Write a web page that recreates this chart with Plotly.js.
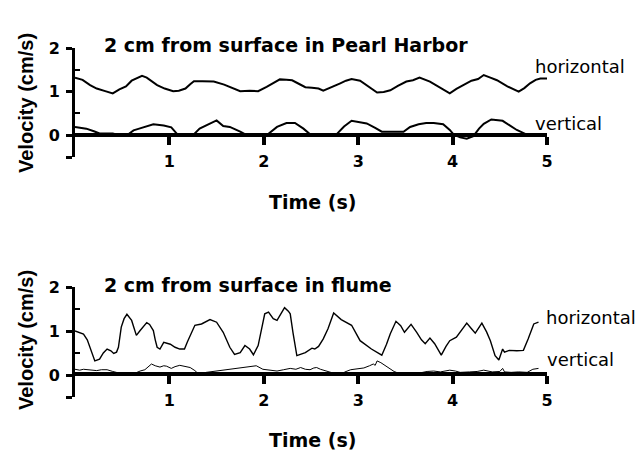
<!DOCTYPE html>
<html>
<head>
<meta charset="utf-8">
<script src="https://cdn.plot.ly/plotly-3.0.1.min.js"></script>
<style>html,body{margin:0;padding:0;background:#fff}#chart{width:644px;height:453px}</style>
</head>
<body>
<div id="chart"></div>
<script>
// ---- data ----
var pearlHorizX = [0.00,0.08,0.16,0.23,0.32,0.40,0.47,0.54,0.60,0.66,0.71,0.76,0.82,0.87,0.95,1.04,1.10,1.17,1.22,1.26,1.35,1.47,1.58,1.68,1.75,1.85,1.94,2.03,2.10,2.17,2.24,2.30,2.37,2.44,2.51,2.58,2.63,2.70,2.81,2.87,2.93,3.02,3.10,3.20,3.27,3.34,3.42,3.51,3.58,3.65,3.76,3.86,3.97,4.04,4.11,4.20,4.27,4.33,4.40,4.47,4.58,4.70,4.76,4.82,4.88,4.93,5.00];
var pearlHorizY = [1.32,1.27,1.15,1.07,1.01,0.96,1.05,1.12,1.25,1.30,1.36,1.32,1.22,1.15,1.07,1.01,1.02,1.07,1.17,1.24,1.24,1.23,1.16,1.07,1.01,1.02,1.01,1.11,1.20,1.28,1.27,1.26,1.18,1.10,1.09,1.07,1.02,1.08,1.19,1.25,1.29,1.25,1.13,0.98,0.99,1.03,1.13,1.23,1.26,1.32,1.23,1.10,0.96,1.06,1.15,1.25,1.29,1.38,1.32,1.26,1.12,1.00,1.08,1.19,1.27,1.30,1.30];
var pearlVertX = [0.00,0.12,0.20,0.26,0.40,0.47,0.55,0.62,0.68,0.75,0.83,0.94,1.02,1.08,1.25,1.32,1.40,1.50,1.57,1.64,1.75,1.82,2.03,2.14,2.24,2.33,2.42,2.49,2.77,2.85,2.93,3.09,3.18,3.25,3.48,3.55,3.64,3.72,3.80,3.90,3.97,4.01,4.08,4.15,4.22,4.28,4.33,4.41,4.53,4.62,4.68,4.78,4.96];
var pearlVertY = [0.19,0.15,0.09,0.04,0.04,0.00,0.00,0.11,0.15,0.20,0.25,0.22,0.18,0.03,0.00,0.15,0.24,0.34,0.21,0.19,0.08,0.00,0.00,0.19,0.28,0.28,0.15,0.02,0.02,0.20,0.33,0.27,0.17,0.08,0.08,0.19,0.25,0.28,0.28,0.25,0.12,0.02,-0.05,-0.08,-0.02,0.15,0.26,0.36,0.33,0.20,0.12,0.02,0.00];

var flumeHorizX = [0.00,0.09,0.13,0.16,0.21,0.26,0.30,0.34,0.38,0.41,0.44,0.46,0.49,0.52,0.55,0.60,0.65,0.69,0.73,0.76,0.79,0.81,0.83,0.85,0.87,0.90,0.94,1.01,1.06,1.11,1.16,1.19,1.22,1.27,1.34,1.43,1.50,1.57,1.64,1.69,1.75,1.80,1.85,1.89,1.94,1.98,2.01,2.05,2.10,2.14,2.18,2.22,2.26,2.28,2.31,2.35,2.44,2.51,2.54,2.58,2.63,2.68,2.74,2.82,2.93,3.02,3.14,3.25,3.30,3.34,3.40,3.45,3.49,3.56,3.62,3.67,3.71,3.76,3.81,3.88,3.93,3.97,4.04,4.10,4.15,4.20,4.24,4.31,4.36,4.40,4.45,4.49,4.51,4.53,4.55,4.60,4.68,4.75,4.80,4.86,4.91];
var flumeHorizY = [1.00,0.93,0.80,0.63,0.32,0.36,0.50,0.59,0.55,0.49,0.52,0.63,1.09,1.28,1.38,1.24,0.90,1.01,1.12,1.19,1.15,1.09,1.01,0.80,0.63,0.59,0.74,0.70,0.63,0.59,0.59,0.75,0.90,1.13,1.16,1.26,1.20,0.97,0.63,0.47,0.51,0.67,0.59,0.46,0.67,1.10,1.39,1.43,1.28,1.24,1.40,1.53,1.45,1.39,0.95,0.44,0.51,0.61,0.59,0.65,0.82,1.05,1.41,1.26,1.13,0.78,0.59,0.45,0.70,0.94,1.22,1.12,0.97,1.15,0.97,0.80,0.71,0.84,0.71,0.45,0.65,0.78,0.86,1.02,1.18,1.05,0.95,1.18,0.98,0.78,0.44,0.34,0.45,0.59,0.52,0.56,0.55,0.56,0.82,1.16,1.20];
var flumeVertX = [0.00,0.05,0.09,0.15,0.23,0.28,0.34,0.40,0.48,0.53,0.59,0.64,0.69,0.74,0.78,0.81,0.85,0.90,0.94,0.97,1.02,1.06,1.11,1.16,1.22,1.27,1.32,1.39,1.46,1.53,1.60,1.67,1.75,1.82,1.88,1.92,1.99,2.06,2.14,2.21,2.28,2.34,2.39,2.44,2.49,2.53,2.56,2.60,2.67,2.74,2.81,2.86,2.92,2.99,3.06,3.12,3.16,3.18,3.20,3.24,3.30,3.38,3.44,3.49,3.58,3.66,3.73,3.80,3.87,3.97,4.03,4.08,4.18,4.26,4.33,4.42,4.50,4.53,4.55,4.62,4.70,4.79,4.85,4.91];
var flumeVertY = [0.13,0.11,0.13,0.11,0.10,0.12,0.12,0.08,0.03,0.01,0.00,0.05,0.09,0.12,0.20,0.25,0.21,0.18,0.21,0.20,0.15,0.19,0.22,0.20,0.17,0.10,0.00,0.06,0.08,0.09,0.11,0.13,0.16,0.17,0.19,0.21,0.13,0.11,0.09,0.12,0.15,0.13,0.17,0.13,0.12,0.16,0.17,0.13,0.08,0.04,0.00,0.07,0.12,0.14,0.16,0.21,0.25,0.22,0.32,0.28,0.20,0.08,0.03,0.00,0.05,0.05,0.08,0.09,0.07,0.11,0.09,0.06,0.07,0.08,0.11,0.07,0.08,0.15,0.07,0.06,0.07,0.06,0.13,0.15];

var xTickVals = [1,2,3,4,5];
var xTickText = ['1','2','3','4','5'];
var yTickVals = [-0.5,0,1,2];
var yTickText = ['','0','1','2'];
var yMinorVals = [0.5,1.5];

var titleTop = '2 cm from surface in Pearl Harbor';
var titleBottom = '2 cm from surface in flume';
var xTitle = 'Time (s)';
var yTitle = 'Velocity (cm/s)';
var seriesNames = ['horizontal','vertical'];

// ---- layout helpers (pixel -> paper) ----
var W = 644, H = 453, ML = 75, MR = 97;
function px(x){ return (x - ML) / (W - ML - MR); }
function py(y){ return (H - y) / H; }

var traces = [
  {x: pearlHorizX, y: pearlHorizY, xaxis:'x', yaxis:'y', mode:'lines', line:{color:'#000', width:2}, name:seriesNames[0]},
  {x: pearlVertX, y: pearlVertY, xaxis:'x', yaxis:'y', mode:'lines', line:{color:'#000', width:2}, name:seriesNames[1]},
  {x: flumeHorizX, y: flumeHorizY, xaxis:'x2', yaxis:'y2', mode:'lines', line:{color:'#000', width:1.4}, name:seriesNames[0]},
  {x: flumeVertX, y: flumeVertY, xaxis:'x2', yaxis:'y2', mode:'lines', line:{color:'#000', width:1}, name:seriesNames[1]}
];

var tickFont = {family:'DejaVu Sans', size:16, color:'#000', weight:'bold'};
function xAx(pos){
  return {domain:[0,1], range:[0,5], anchor:'free', position:pos, showline:true, linewidth:4, linecolor:'#000',
    ticks:'outside', ticklen:8, tickwidth:4, tickcolor:'#000', tickvals:xTickVals, ticktext:xTickText,
    tickfont:tickFont, ticklabelstandoff:3, showgrid:false, zeroline:false, fixedrange:true};
}
function yAx(dom, xa){
  return {domain:dom, range:[-0.5,2], anchor:xa, showline:true, linewidth:3, linecolor:'#000',
    ticks:'outside', ticklen:6, tickwidth:3, tickcolor:'#000', tickvals:yTickVals, ticktext:yTickText,
    tickfont:tickFont, ticklabelstandoff:3, showgrid:false, zeroline:false,
    minor:{tickmode:'array', tickvals:yMinorVals, ticks:'inside', ticklen:5, tickwidth:2, tickcolor:'#000', showgrid:false}};
}

var bold = {family:'DejaVu Sans', size:19, color:'#000', weight:'bold'};
var reg = {family:'DejaVu Sans', size:18, color:'#000'};
var yt = {family:'Liberation Sans', size:20, color:'#000', weight:'bold'};
function ann(text, x, y, font, xanchor, angle){
  return {text:text, xref:'paper', yref:'paper', x:x, y:y, xanchor:xanchor||'left', yanchor:'middle',
    showarrow:false, font:font, textangle:angle||0};
}

var layout = {
  width:W, height:H, margin:{l:ML, r:MR, t:0, b:0}, showlegend:false,
  paper_bgcolor:'#fff', plot_bgcolor:'#fff',
  xaxis: xAx(py(135)),
  yaxis: yAx([py(157), py(48)], 'x'),
  xaxis2: xAx(py(374)),
  yaxis2: yAx([py(397), py(287)], 'x2'),
  annotations:[
    ann(titleTop, px(102), py(45), bold),
    ann(titleBottom, px(102), py(285), bold),
    ann(xTitle, px(312), py(202), bold, 'center'),
    ann(xTitle, px(312), py(440), bold, 'center'),
    ann(seriesNames[0], px(533), py(67), reg),
    ann(seriesNames[1], px(533), py(124), reg),
    ann(seriesNames[0], px(544), py(317), reg),
    ann(seriesNames[1], px(545), py(359), reg),
    ann(yTitle, px(26), py(103), yt, 'center', -90),
    ann(yTitle, px(26), py(340), yt, 'center', -90)
  ]
};

Plotly.newPlot('chart', traces, layout, {staticPlot:true, displayModeBar:false});
</script>
</body>
</html>
